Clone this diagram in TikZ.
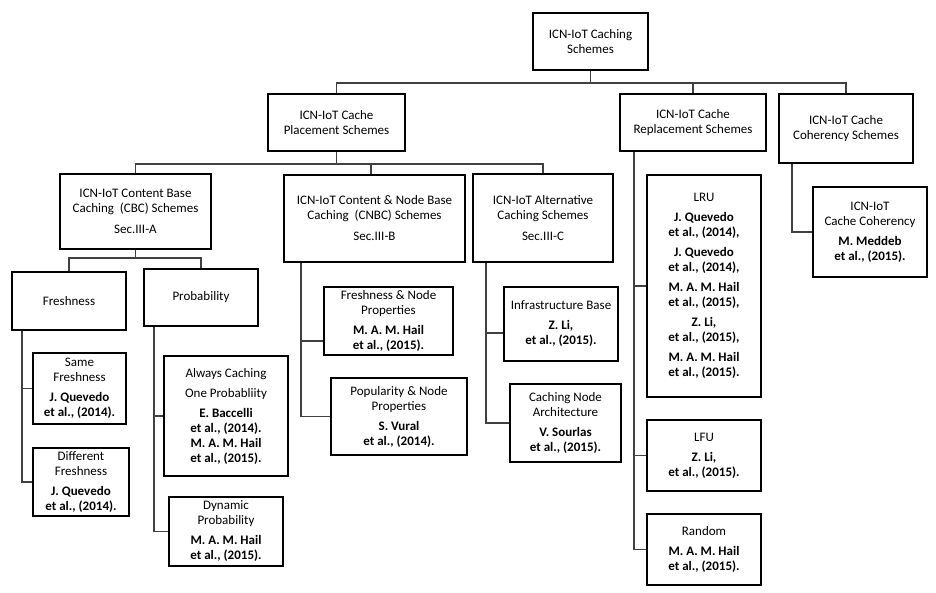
\documentclass[tikz,border=0pt]{standalone}
\usepackage{fontspec}
\setmainfont{Carlito}
\usetikzlibrary{positioning}
\definecolor{linkgray}{HTML}{404040}

\begin{document}
\begin{tikzpicture}[
    x=1pt, y=-1pt,
    font=\fontsize{13}{15}\selectfont,
    scheme/.style={draw=black, line width=1.9pt, align=center, inner sep=2pt},
    link/.style={draw=linkgray, line width=1.4pt}
]
\useasboundingbox (0,0) rectangle (936,593);

% --- Root and first level ---
\node[scheme, minimum width=115pt, minimum height=57pt] (root) at (590.5,41.5) {ICN-IoT Caching\\Schemes};
\node[scheme, minimum width=137pt, minimum height=57pt] (place) at (336.5,122.5) {ICN-IoT Cache\\Placement Schemes};
\node[scheme, minimum width=146pt, minimum height=57pt] (repl) at (693,122.5) {ICN-IoT Cache\\Replacement Schemes};
\node[scheme, minimum width=134pt, minimum height=69pt] (coher) at (846,128.5) {ICN-IoT Cache\\Coherency Schemes};

% --- Placement schemes ---
\node[scheme, minimum width=151pt, minimum height=75pt] (cbc) at (135.5,211.5) {ICN-IoT Content Base\\Caching \ (CBC) Schemes\\[6pt]Sec.III-A};
\node[scheme, minimum width=181pt, minimum height=87pt] (cnbc) at (374.5,218.5) {ICN-IoT Content \& Node Base\\Caching \ (CNBC) Schemes\\[6pt]Sec.III-B};
\node[scheme, minimum width=140pt, minimum height=88pt] (alt) at (543,218) {ICN-IoT Alternative\\Caching Schemes\\[6pt]Sec.III-C};

% --- CBC branch ---
\node[scheme, minimum width=114pt, minimum height=58pt] (fresh) at (69,301) {Freshness};
\node[scheme, minimum width=114pt, minimum height=57pt] (prob) at (201,297.5) {Probability};
\node[scheme, minimum width=93pt, minimum height=71pt] (samefr) at (79.5,388.5) {Same\\Freshness\\[5pt]\textbf{J. Quevedo}\\\textbf{et al., (2014).}};
\node[scheme, minimum width=96pt, minimum height=68pt] (difffr) at (81,482) {Different\\Freshness\\[5pt]\textbf{J. Quevedo}\\\textbf{et al., (2014).}};
\node[scheme, minimum width=124pt, minimum height=120pt] (always) at (226,416) {Always Caching\\[5pt]One Probabliity\\[5pt]\textbf{E. Baccelli}\\\textbf{et al., (2014).}\\\textbf{M. A. M. Hail}\\\textbf{et al., (2015).}};
\node[scheme, minimum width=114pt, minimum height=69pt] (dynprob) at (226,531.5) {Dynamic\\Probability\\[5pt]\textbf{M. A. M. Hail}\\\textbf{et al., (2015).}};

% --- CNBC and alternative branches ---
\node[scheme, minimum width=129pt, minimum height=68pt] (frnode) at (388.5,321) {Freshness \& Node\\Properties\\[5pt]\textbf{M. A. M. Hail}\\\textbf{et al., (2015).}};
\node[scheme, minimum width=136pt, minimum height=77pt] (popnode) at (399,416.5) {Popularity \& Node\\Properties\\[5pt]\textbf{S. Vural}\\\textbf{et al., (2014).}};
\node[scheme, minimum width=114pt, minimum height=74pt] (infra) at (561,324) {Infrastructure Base\\[5pt]\textbf{Z. Li,}\\\textbf{et al., (2015).}};
\node[scheme, minimum width=111pt, minimum height=78pt] (cnarch) at (565.5,423) {Caching Node\\Architecture\\[5pt]\textbf{V. Sourlas}\\\textbf{et al., (2015).}};

% --- Replacement schemes ---
\node[scheme, minimum width=114pt, minimum height=222pt] (lru) at (704,286) {LRU\\[5pt]\textbf{J. Quevedo}\\\textbf{et al., (2014),}\\[5pt]\textbf{J. Quevedo}\\\textbf{et al., (2014),}\\[5pt]\textbf{M. A. M. Hail}\\\textbf{et al., (2015),}\\[5pt]\textbf{Z. Li,}\\\textbf{et al., (2015),}\\[5pt]\textbf{M. A. M. Hail}\\\textbf{et al., (2015).}};
\node[scheme, minimum width=114pt, minimum height=71pt] (lfu) at (704,455.5) {LFU\\[5pt]\textbf{Z. Li,}\\\textbf{et al., (2015).}};
\node[scheme, minimum width=114pt, minimum height=71pt] (rand) at (704,549.5) {Random\\[5pt]\textbf{M. A. M. Hail}\\\textbf{et al., (2015).}};

% --- Coherency scheme ---
\node[scheme, minimum width=114pt, minimum height=90pt] (cohere) at (870,232) {ICN-IoT\\Cache Coherency\\[5pt]\textbf{M. Meddeb}\\\textbf{et al., (2015).}};

% --- Tree links ---
\draw[link] (root.south) -- ++(0,12) -| (place.north);
\draw[link] (root.south) -- ++(0,12) -| (repl.north);
\draw[link] (root.south) -- ++(0,12) -| (coher.north);

\draw[link] (place.south) -- ++(0,12) -| (cbc.north);
\draw[link] (place.south) -- ++(0,12) -| ([xshift=-3.5pt]cnbc.north);
\draw[link] (place.south) -- ++(0,12) -| (alt.north);

\draw[link] (cbc.south) -- ++(0,8) -| (fresh.north);
\draw[link] (cbc.south) -- ++(0,8) -| (prob.north);

\draw[link] ([xshift=11pt]fresh.south west) |- (samefr.west);
\draw[link] ([xshift=11pt]fresh.south west) |- (difffr.west);
\draw[link] ([xshift=11pt]prob.south west) |- (always.west);
\draw[link] ([xshift=11pt]prob.south west) |- (dynprob.west);

\draw[link] ([xshift=18pt]cnbc.south west) |- ([yshift=-20pt]frnode.west);
\draw[link] ([xshift=18pt]cnbc.south west) |- (popnode.west);
\draw[link] ([xshift=14pt]alt.south west) |- ([yshift=-9pt]infra.west);
\draw[link] ([xshift=14pt]alt.south west) |- (cnarch.west);

\draw[link] ([xshift=15pt]repl.south west) |- (lru.west);
\draw[link] ([xshift=15pt]repl.south west) |- (lfu.west);
\draw[link] ([xshift=15pt]repl.south west) |- (rand.west);

\draw[link] ([xshift=14pt]coher.south west) |- (cohere.west);

\end{tikzpicture}
\end{document}
